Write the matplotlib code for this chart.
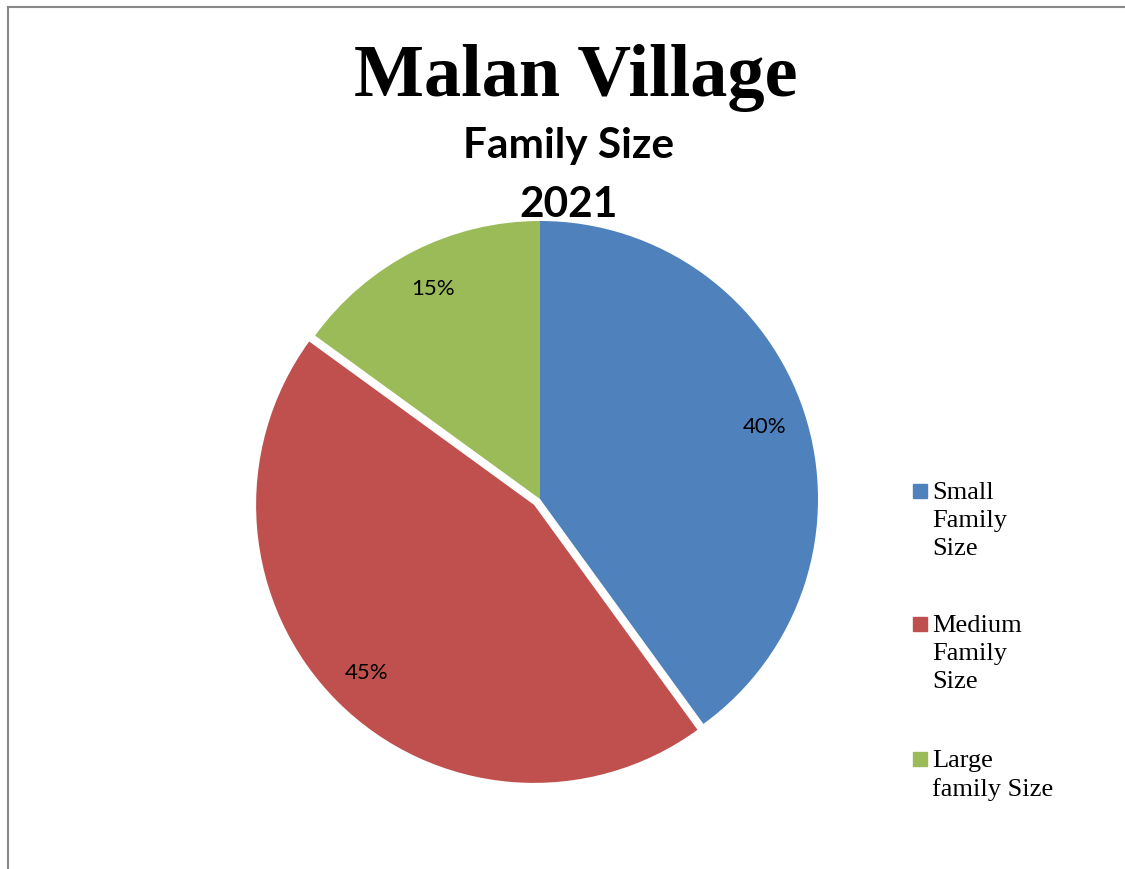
import matplotlib.pyplot as plt
from matplotlib.lines import Line2D
from matplotlib.patches import Rectangle

# data
labels = ["Small Family Size", "Medium Family Size", "Large family Size"]
legend_text = ["Small\nFamily\nSize", "Medium\nFamily\nSize", "Large\nfamily Size"]
values = [40, 45, 15]
colors = ["#4F81BD", "#C0504D", "#9BBB59"]
explode = [0, 0.03, 0]

W, H = 1125, 870
fig = plt.figure(figsize=(W / 100, H / 100), dpi=100)

# pie axes: centre at (540, 500) px, radius 278 px
cx, cy, r = 540, 500, 278
lim = 1.15
half = r * lim
ax = fig.add_axes([(cx - half) / W, (H - cy - half) / H, 2 * half / W, 2 * half / H])
ax.pie(values, colors=colors, explode=explode, startangle=90, counterclock=False,
       autopct="%1.0f%%", pctdistance=0.85,
       textprops=dict(fontsize=16, family="Lato", color="black"))
ax.set_xlim(-lim, lim)
ax.set_ylim(-lim, lim)
ax.set_aspect("equal")
ax.axis("off")

# titles
fig.text(576 / W, 1 - 78 / H, "Malan Village", ha="center", va="center",
         fontsize=53.5, fontweight="bold", family="Liberation Serif")
fig.text(569 / W, 1 - 146 / H, "Family Size", ha="center", va="center",
         fontsize=30.5, fontweight="bold", family="Lato")
fig.text(569 / W, 1 - 205 / H, "2021", ha="center", va="center",
         fontsize=30.5, fontweight="bold", family="Lato")

# legend
ys = [492, 625, 760]
for y, txt, c in zip(ys, legend_text, colors):
    fig.add_artist(Rectangle((913 / W, 1 - (y + 7) / H), 14 / W, 14 / H,
                             transform=fig.transFigure, color=c))
    fig.text(932 / W, 1 - (y - 10) / H, txt, ha="left", va="top",
             fontsize=19, family="Liberation Serif", linespacing=1.34)

# frame lines (top and left)
fig.add_artist(Line2D([7.5 / W, 1], [1 - 7.5 / H, 1 - 7.5 / H], color="#888888", lw=1.5))
fig.add_artist(Line2D([7.5 / W, 7.5 / W], [0, 1 - 7.5 / H], color="#888888", lw=1.5))

fig.savefig("out.png", dpi=100)
